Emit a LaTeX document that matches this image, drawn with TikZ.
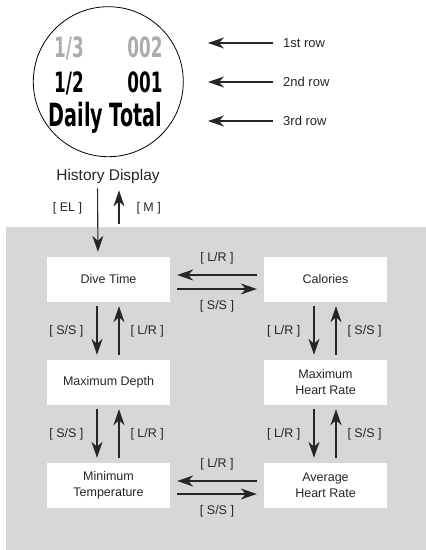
\documentclass[tikz,border=0pt]{standalone}
\usepackage{fontspec}
\setmainfont{Liberation Sans}
\newfontfamily\lcdfont[FakeStretch=0.6]{DejaVu Sans}
\usetikzlibrary{arrows.meta,positioning}
\definecolor{panelgray}{RGB}{214,215,217}
\definecolor{lcdgray}{RGB}{172,172,172}
\definecolor{ink}{RGB}{38,38,38}
\tikzset{
  infobox/.style={fill=white, minimum width=123pt, minimum height=45pt, inner sep=2pt,
    align=center, font=\fontsize{12.5}{16}\selectfont, text=ink},
  keylabel/.style={font=\fontsize{12.5}{15}\selectfont, text=ink, inner sep=0pt},
  rowlabel/.style={font=\fontsize{13}{15}\selectfont, text=ink, inner sep=0pt, anchor=west},
  flow/.style={-{Stealth[length=16pt,width=11pt,inset=5pt]}, line width=1.1pt, draw=ink},
  lcd/.style={font=\lcdfont\bfseries\fontsize{28}{30}\selectfont, inner sep=0pt, anchor=base},
}
\begin{document}
\begin{tikzpicture}[x=1pt,y=-1pt]
    \useasboundingbox (0,0) rectangle (426,550);
    % watch face
    \node[circle, draw=black, line width=0.8pt, minimum size=150pt, inner sep=0pt] (face) at (108.3,81.7) {};
    \node[lcd, text=lcdgray] (r1a) at (69,57) {1/3};
    \node[lcd, text=lcdgray] (r1b) at (145,57) {002};
    \node[lcd] (r2a) at (69,92) {1/2};
    \node[lcd] (r2b) at (145,92) {001};
    \node[lcd, font=\lcdfont\bfseries\fontsize{32}{34}\selectfont] (r3) at (105.5,126) {Daily Total};
    % row pointers
    \node[rowlabel] (row1) at (283,43) {1st row};
    \node[rowlabel] (row2) at (283,82) {2nd row};
    \node[rowlabel] (row3) at (283,121) {3rd row};
    \coordinate (tip1) at (208,43);
    \coordinate (tip2) at (208,82);
    \coordinate (tip3) at (208,121);
    \draw[flow, shorten <=10pt] (row1.west) -- (tip1);
    \draw[flow, shorten <=10pt] (row2.west) -- (tip2);
    \draw[flow, shorten <=10pt] (row3.west) -- (tip3);
    \node[font=\fontsize{15.5}{18}\selectfont, text=ink, inner sep=0pt, anchor=base] (hist) at (108,180) {History Display};
    % grey panel
    \fill[panelgray] (6,227) rectangle (426,550);
    % history views
    \node[infobox] (dive) at (108.5,279.5) {Dive Time};
    \node[infobox] (cal) at (325.5,279.5) {Calories};
    \node[infobox] (depth) at (108.5,382.5) {Maximum Depth};
    \node[infobox] (maxhr) at (325.5,382.5) {Maximum\\Heart Rate};
    \node[infobox] (mintemp) at (108.5,485.5) {Minimum\\Temperature};
    \node[infobox] (avghr) at (325.5,485.5) {Average\\Heart Rate};
    % enter / leave
    \coordinate (mtail) at (119,224);
    \draw[flow, shorten <=5pt, shorten >=5pt] ([xshift=-10.5pt]hist.south) -- ([xshift=-10.5pt]dive.north)
        node[keylabel, pos=0.34, left=15pt] (kel) {[ EL ]};
    \draw[flow, shorten >=7pt] (mtail) -- (mtail |- hist.south)
        node[keylabel, pos=0.39, right=17pt] (km) {[ M ]};
    % left column
    \draw[flow, shorten <=4pt, shorten >=5pt] ([xshift=-11.5pt]dive.south) -- ([xshift=-11.5pt]depth.north)
        node[keylabel, midway, left=13pt] (k1) {[ S/S ]};
    \draw[flow, shorten <=5pt, shorten >=4pt] ([xshift=10.5pt]depth.north) -- ([xshift=10.5pt]dive.south)
        node[keylabel, midway, right=11pt] (k2) {[ L/R ]};
    \draw[flow, shorten <=4pt, shorten >=5pt] ([xshift=-11.5pt]depth.south) -- ([xshift=-11.5pt]mintemp.north)
        node[keylabel, midway, left=13pt] (k3) {[ S/S ]};
    \draw[flow, shorten <=5pt, shorten >=4pt] ([xshift=10.5pt]mintemp.north) -- ([xshift=10.5pt]depth.south)
        node[keylabel, midway, right=11pt] (k4) {[ L/R ]};
    % right column
    \draw[flow, shorten <=4pt, shorten >=5pt] ([xshift=-11.5pt]cal.south) -- ([xshift=-11.5pt]maxhr.north)
        node[keylabel, midway, left=13pt] (k5) {[ L/R ]};
    \draw[flow, shorten <=5pt, shorten >=4pt] ([xshift=10.5pt]maxhr.north) -- ([xshift=10.5pt]cal.south)
        node[keylabel, midway, right=11pt] (k6) {[ S/S ]};
    \draw[flow, shorten <=4pt, shorten >=5pt] ([xshift=-11.5pt]maxhr.south) -- ([xshift=-11.5pt]avghr.north)
        node[keylabel, midway, left=13pt] (k7) {[ L/R ]};
    \draw[flow, shorten <=5pt, shorten >=4pt] ([xshift=10.5pt]avghr.north) -- ([xshift=10.5pt]maxhr.south)
        node[keylabel, midway, right=11pt] (k8) {[ S/S ]};
    % across
    \draw[flow, shorten <=7pt, shorten >=7pt] ([yshift=4.5pt]cal.west) -- ([yshift=4.5pt]dive.east)
        node[keylabel, midway, above=10pt] (k9) {[ L/R ]};
    \draw[flow, shorten <=7pt, shorten >=7pt] ([yshift=-9.5pt]dive.east) -- ([yshift=-9.5pt]cal.west)
        node[keylabel, midway, below=11pt] (k10) {[ S/S ]};
    \draw[flow, shorten <=7pt, shorten >=7pt] ([yshift=4.5pt]avghr.west) -- ([yshift=4.5pt]mintemp.east)
        node[keylabel, midway, above=10pt] (k11) {[ L/R ]};
    \draw[flow, shorten <=7pt, shorten >=7pt] ([yshift=-8.5pt]mintemp.east) -- ([yshift=-8.5pt]avghr.west)
        node[keylabel, midway, below=11pt] (k12) {[ S/S ]};
\end{tikzpicture}
\end{document}
